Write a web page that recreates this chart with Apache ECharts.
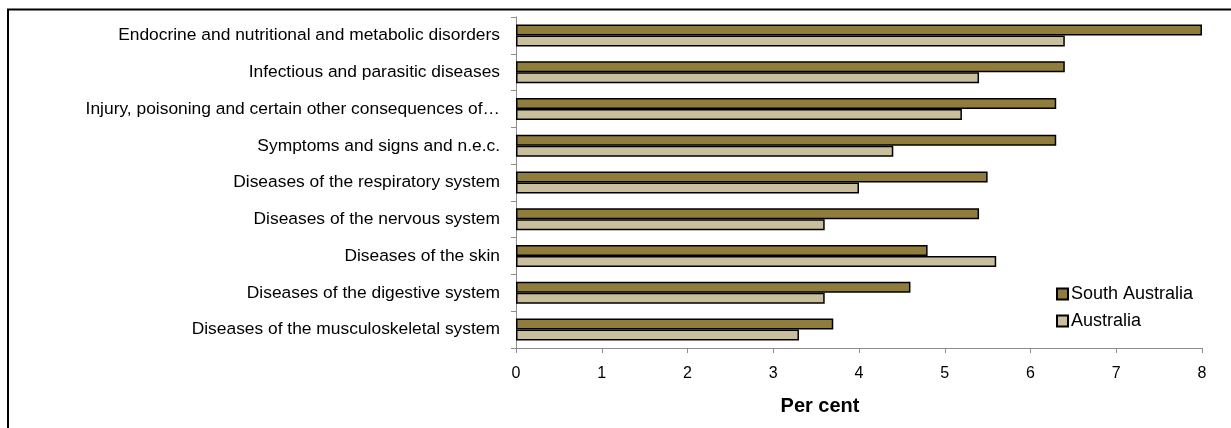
<!DOCTYPE html>
<html>
<head>
<meta charset="utf-8">
<script src="https://cdn.jsdelivr.net/npm/echarts@6/dist/echarts.min.js"></script>
<style>
  html, body { margin: 0; padding: 0; background: #fff; }
  #chart { width: 1231px; height: 428px; }
</style>
</head>
<body>
<div id="chart"></div>
<script>
// categories, top to bottom
var categories = [
  'Endocrine and nutritional and metabolic disorders',
  'Infectious and parasitic diseases',
  'Injury, poisoning and certain other consequences of external causes',
  'Symptoms and signs and n.e.c.',
  'Diseases of the respiratory system',
  'Diseases of the nervous system',
  'Diseases of the skin',
  'Diseases of the digestive system',
  'Diseases of the musculoskeletal system'
];
var southAustralia = [8.0, 6.4, 6.3, 6.3, 5.5, 5.4, 4.8, 4.6, 3.7];
var australia = [6.4, 5.4, 5.2, 4.4, 4.0, 3.6, 5.6, 3.6, 3.3];

var font = 'Liberation Sans, Arial, sans-serif';
var dom = document.getElementById('chart');
var myChart = echarts.init(dom);

var option = {
  animation: false,
  textStyle: { fontFamily: font },
  // outer frame: only top and left edges fall inside the picture
  graphic: [{
    type: 'rect',
    shape: { x: 8, y: 9.5, width: 1400, height: 600 },
    style: { fill: 'none', stroke: '#000', lineWidth: 2 },
    silent: true
  }],
  grid: { left: 516, right: 29, top: 17, bottom: 80 },
  legend: {
    orient: 'vertical',
    left: 1051,
    top: 280,
    itemWidth: 11,
    itemHeight: 11,
    itemGap: 9,
    icon: 'rect',
    textStyle: { fontSize: 18, lineHeight: 18, color: '#000', fontFamily: font, padding: [0, 0, 0, -2] },
    data: ['South Australia', 'Australia']
  },
  xAxis: {
    type: 'value',
    min: 0,
    max: 8,
    interval: 1,
    name: 'Per cent',
    nameLocation: 'middle',
    nameGap: 48,
    nameTextStyle: { fontSize: 20, fontWeight: 'bold', color: '#000', fontFamily: font, padding: [0, 78, 0, 0] },
    axisLine: { show: true, lineStyle: { color: '#8c8c8c', width: 1 } },
    axisTick: { show: true, length: 5, lineStyle: { color: '#8c8c8c' } },
    axisLabel: { fontSize: 16, color: '#000', margin: 18, fontFamily: font },
    splitLine: { show: false }
  },
  yAxis: {
    type: 'category',
    inverse: true,
    data: categories,
    axisLine: { show: true, lineStyle: { color: '#8c8c8c', width: 1 } },
    axisTick: { show: true, length: 5, lineStyle: { color: '#8c8c8c' } },
    axisLabel: {
      fontSize: 17.4,
      color: '#000',
      margin: 16,
      width: 419,
      overflow: 'truncate',
      ellipsis: '…',
      fontFamily: font
    }
  },
  series: [{
    name: 'South Australia',
    type: 'bar',
    data: southAustralia,
    barWidth: 11,
    barGap: '0%',
    itemStyle: { color: '#917d3b', borderColor: '#000', borderWidth: 1.5 }
  }, {
    name: 'Australia',
    type: 'bar',
    data: australia,
    barWidth: 11,
    itemStyle: { color: '#c9bf9c', borderColor: '#000', borderWidth: 1.5 }
  }]
};

myChart.setOption(option, true);
</script>
</body>
</html>
